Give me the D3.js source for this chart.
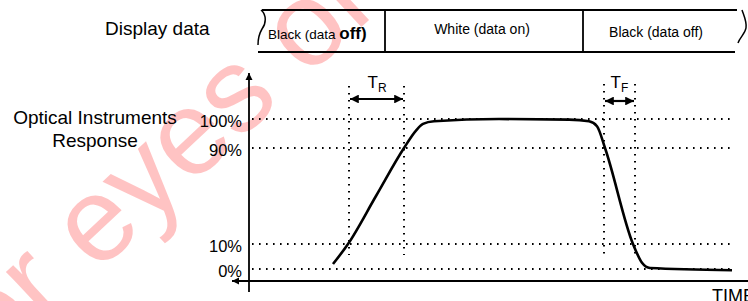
<!DOCTYPE html>
<html>
<head>
<meta charset="utf-8">
<script src="https://cdn.jsdelivr.net/npm/d3@7"></script>
<style>
  body { margin: 0; background: #fff; }
  svg { display: block; font-family: "Liberation Sans", Arial, sans-serif; }
</style>
</head>
<body>
<svg width="748" height="301"></svg>
<script>
const svg = d3.select('svg');

// data (time in arbitrary units, response in %)
const responseTime = [84, 99, 127, 155, 167, 174, 185, 250, 320, 340, 348, 356, 384, 393, 401, 483];
const responsePct = [2, 10, 50, 90, 96, 98.3, 99.2, 100, 99.8, 99.2, 97.5, 90, 10, 2.5, 0.4, -0.5];
const levelTicks = [0, 10, 90, 100];
const riseMarks = [100, 155];
const fallMarks = [355, 386];
const displayStates = ['Black (data ', 'White (data on)', 'Black (data off)'];
const displayBounds = [11, 136, 334, 494];

const x = d3.scaleLinear().domain([0, 500]).range([249, 749]);
// schematic, not linear: levels are spaced by hand in the original
const y = d3.scaleLinear().domain([0, 10, 90, 100]).range([269, 244, 148, 119]);

// watermark (behind everything)
svg.append('text')
  .attr('transform', 'translate(-30,392) rotate(-43)')
  .attr('font-size', 120)
  .attr('fill', 'rgb(255,60,60)')
  .attr('opacity', 0.3)
  .text('for eyes only');

svg.append('defs').selectAll('marker')
  .data(['head'])
  .enter().append('marker')
  .attr('id', String)
  .attr('viewBox', '0 -5 10 10')
  .attr('refX', 10)
  .attr('refY', 0)
  .attr('markerWidth', 4)
  .attr('markerHeight', 4)
  .attr('orient', 'auto-start-reverse')
  .append('path')
  .attr('d', 'M0,-5L10,0L0,5Z')
  .attr('fill', '#000');

// ---- display data band ----
svg.append('text')
  .attr('x', 105).attr('y', 35)
  .attr('font-size', 19)
  .text('Display data');

const bandTop = 10, bandBot = 52;
svg.append('line')
  .attr('x1', x(displayBounds[0]) + 2).attr('x2', x(displayBounds[3]) - 6)
  .attr('y1', bandTop).attr('y2', bandTop)
  .attr('stroke', '#000').attr('stroke-width', 1.8);
svg.append('line')
  .attr('x1', x(displayBounds[0]) - 2).attr('x2', x(displayBounds[3]) - 8)
  .attr('y1', bandBot).attr('y2', bandBot)
  .attr('stroke', '#000').attr('stroke-width', 1.8);
svg.append('path')
  .attr('d', 'M261,10 C267,15 266,24 262,29 C259,34 258,39 258,45')
  .attr('fill', 'none').attr('stroke', '#000').attr('stroke-width', 1.5);
svg.append('path')
  .attr('d', 'M742,10 C744,16 747,22 746,28 C745,34 740,37 738,43')
  .attr('fill', 'none').attr('stroke', '#000').attr('stroke-width', 1.5);
svg.selectAll('.divider')
  .data(displayBounds.slice(1, 3))
  .enter().append('line')
  .attr('class', 'divider')
  .attr('x1', d => x(d)).attr('x2', d => x(d))
  .attr('y1', bandTop).attr('y2', bandBot)
  .attr('stroke', '#000').attr('stroke-width', 1.8);

const first = svg.append('text')
  .attr('x', 268).attr('y', 39)
  .attr('font-size', 13.5);
first.append('tspan').text(displayStates[0]);
first.append('tspan').attr('font-size', 17).attr('font-weight', 'bold').text('off)');

svg.append('text')
  .attr('x', x((displayBounds[1] + displayBounds[2]) / 2) - 2).attr('y', 34)
  .attr('text-anchor', 'middle')
  .attr('font-size', 14)
  .text(displayStates[1]);
svg.append('text')
  .attr('x', x((displayBounds[2] + displayBounds[3]) / 2) - 7).attr('y', 37)
  .attr('text-anchor', 'middle')
  .attr('font-size', 14)
  .text(displayStates[2]);

// ---- response chart ----
const side = svg.append('text')
  .attr('font-size', 19)
  .attr('text-anchor', 'middle');
side.append('tspan').attr('x', 95).attr('y', 124).text('Optical Instruments');
side.append('tspan').attr('x', 95).attr('y', 147).text('Response');

// dotted level lines
svg.selectAll('.level')
  .data(levelTicks)
  .enter().append('line')
  .attr('class', 'level')
  .attr('x1', x(3)).attr('x2', x(482))
  .attr('y1', d => y(d)).attr('y2', d => y(d))
  .attr('stroke', '#000').attr('stroke-width', 2)
  .attr('stroke-dasharray', '1.6,5.4');

const yAxis = svg.append('g')
  .attr('transform', `translate(${x(0) - 7},0)`)
  .call(d3.axisLeft(y).tickValues(levelTicks).tickSize(0).tickPadding(0)
    .tickFormat(d => d + '%'));
yAxis.select('.domain').remove();
yAxis.selectAll('text')
  .attr('font-size', 16.5)
  .attr('font-family', '"Liberation Sans", Arial, sans-serif')
  .attr('fill', '#000')
  .attr('dy', '0.45em');

// axes with arrows
svg.append('line')
  .attr('x1', x(0)).attr('x2', x(0))
  .attr('y1', 292).attr('y2', 73)
  .attr('stroke', '#000').attr('stroke-width', 1.8)
  .attr('marker-end', 'url(#head)');
svg.append('line')
  .attr('x1', 748).attr('x2', 232)
  .attr('y1', 281).attr('y2', 281)
  .attr('stroke', '#000').attr('stroke-width', 1.8)
  .attr('marker-end', 'url(#head)');

svg.append('text')
  .attr('x', 712).attr('y', 302)
  .attr('font-size', 18)
  .text('TIME');

// rise / fall markers
const marks = [
  { t: riseMarks, top: 86, bottom: 255, arrowY: 99, sub: 'R' },
  { t: fallMarks, top: 84, bottom: 258, arrowY: 101, sub: 'F' },
];
marks.forEach(m => {
  svg.selectAll(null)
    .data(m.t)
    .enter().append('line')
    .attr('x1', d => x(d)).attr('x2', d => x(d))
    .attr('y1', m.top).attr('y2', m.bottom)
    .attr('stroke', '#000').attr('stroke-width', 2)
    .attr('stroke-dasharray', '1.6,5.4');
  svg.append('line')
    .attr('x1', x(m.t[0]) + 1).attr('x2', x(m.t[1]) - 1)
    .attr('y1', m.arrowY).attr('y2', m.arrowY)
    .attr('stroke', '#000').attr('stroke-width', 2.2)
    .attr('marker-start', 'url(#head)')
    .attr('marker-end', 'url(#head)');
  const lbl = svg.append('text')
    .attr('x', (x(m.t[0]) + x(m.t[1])) / 2 - 9)
    .attr('y', 88)
    .attr('font-size', 17);
  lbl.append('tspan').text('T');
  lbl.append('tspan').attr('font-size', 12).attr('dy', 4).text(m.sub);
});

// response curve
const pts = responseTime.map((t, i) => [t, responsePct[i]]);
svg.append('path')
  .datum(pts)
  .attr('fill', 'none')
  .attr('stroke', '#000')
  .attr('stroke-width', 2.6)
  .attr('d', d3.line().x(d => x(d[0])).y(d => y(d[1])).curve(d3.curveMonotoneX));
</script>
</body>
</html>
